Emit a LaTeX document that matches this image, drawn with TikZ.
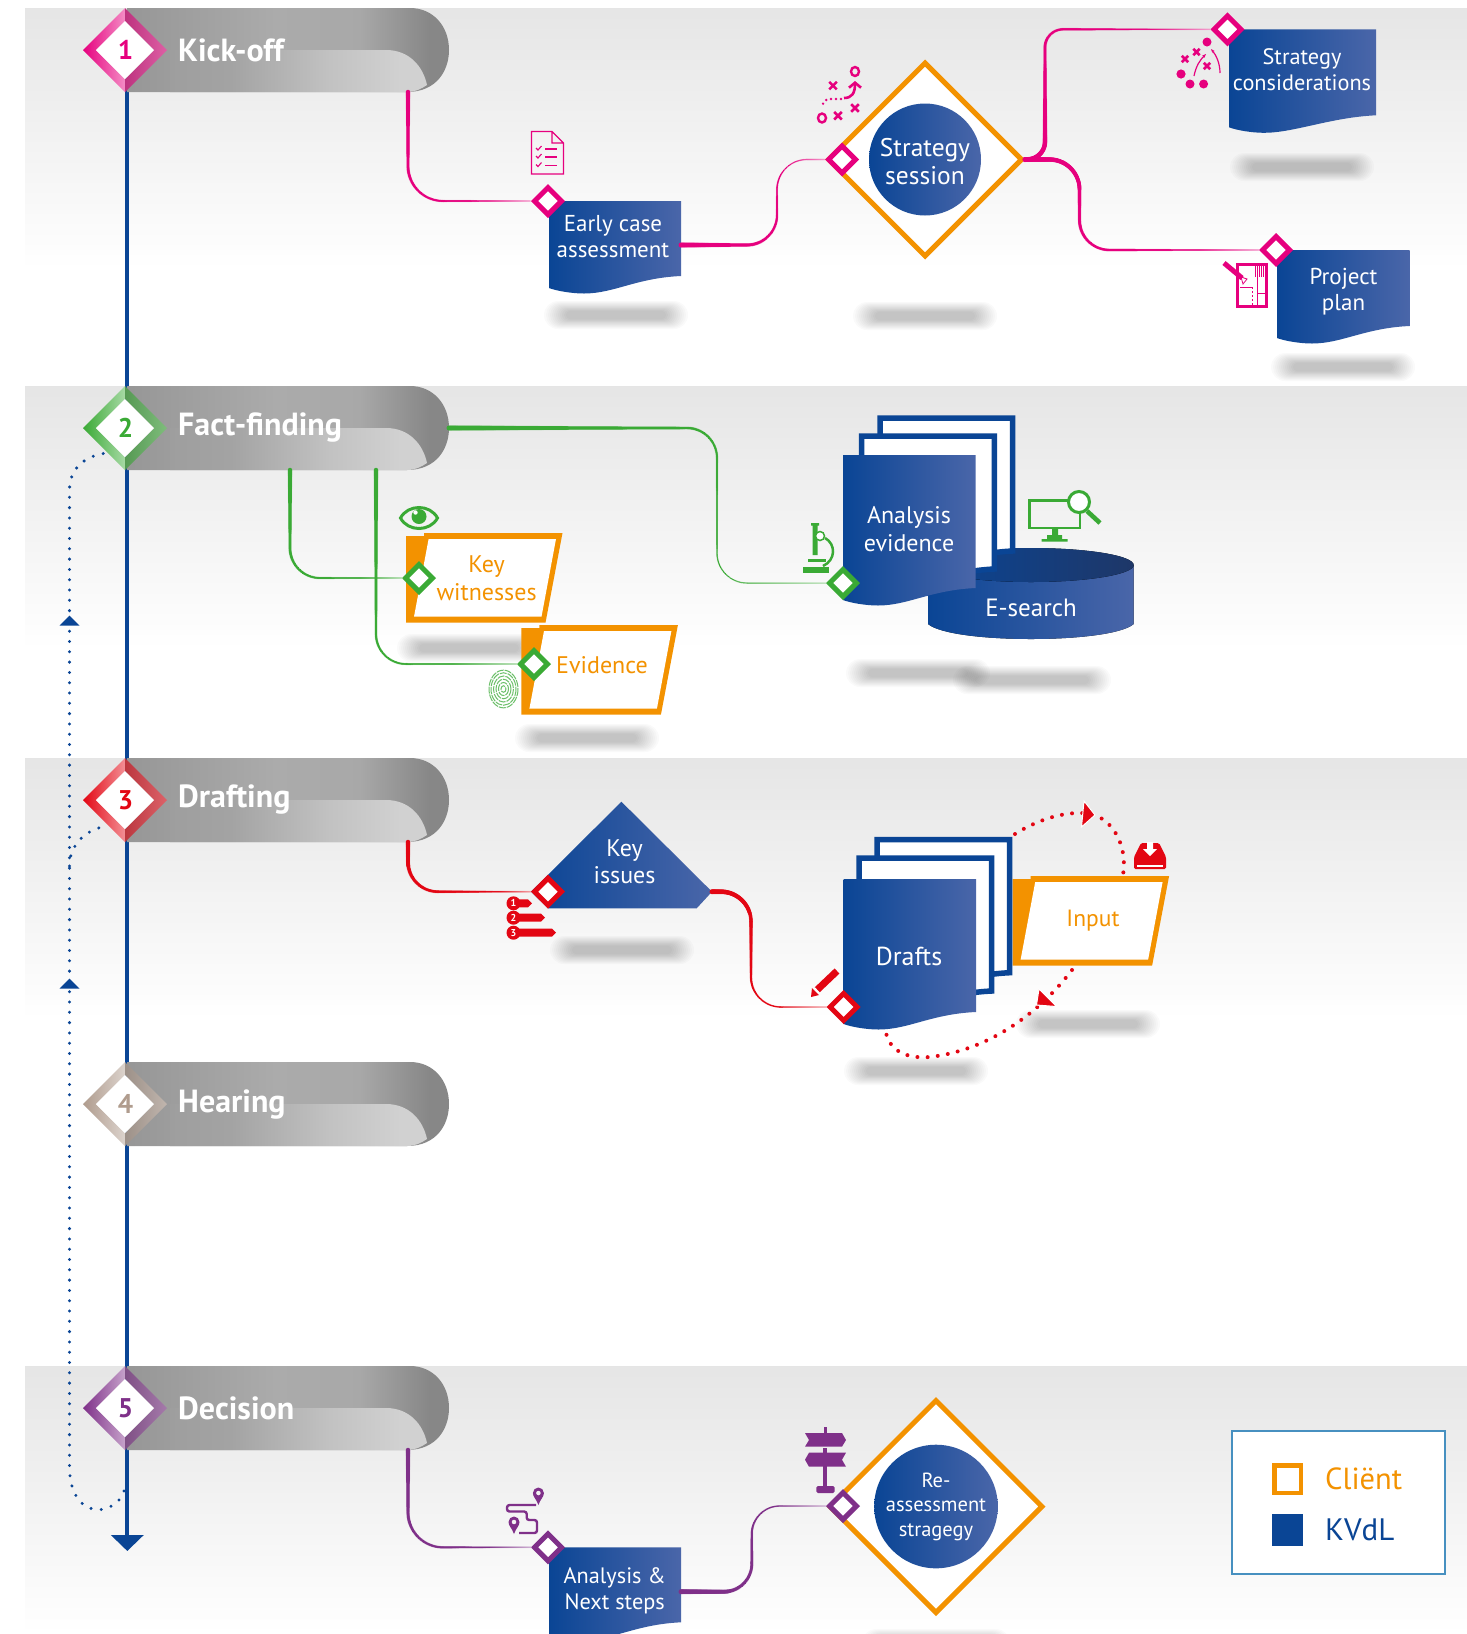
\documentclass[tikz,border=0pt]{standalone}
\usepackage{fontspec}
\setmainfont{PT Sans}
\usetikzlibrary{shapes.geometric,arrows.meta,decorations.markings,calc}
\definecolor{navy}{HTML}{0A4595}
\definecolor{navyB}{HTML}{4A66A9}
\definecolor{navyD}{HTML}{1E3768}
\definecolor{orng}{HTML}{F39200}
\definecolor{mgnt}{HTML}{E6007E}
\definecolor{grn}{HTML}{3AAA35}
\definecolor{rd}{HTML}{E30613}
\definecolor{prpl}{HTML}{7F3089}
\definecolor{taup}{HTML}{B09C8E}
\pgfdeclarehorizontalshading{bannerback}{100bp}{color(0bp)=(black!41);color(25bp)=(black!41);color(48bp)=(black!33);color(61bp)=(black!34);color(72bp)=(black!47);color(100bp)=(black!47)}
\pgfdeclarehorizontalshading{bannerfront}{100bp}{color(0bp)=(black!38);color(25bp)=(black!38);color(37bp)=(black!36);color(56bp)=(black!24);color(70bp)=(black!18);color(100bp)=(black!18)}
\tikzset{
 x=1pt,y=-1pt,
 wtext/.style={text=white,font=\fontsize{23}{26}\selectfont,align=center,inner sep=0pt},
 otext/.style={text=orng,font=\fontsize{24}{28}\selectfont,align=center,inner sep=0pt},
 port/.style={diamond,draw=#1,fill=white,line width=5pt,inner sep=0pt,minimum width=29pt,minimum height=29pt,aspect=1},
 bigdia/.style={diamond,draw=orng,fill=white,line width=5pt,inner sep=0pt,aspect=1,minimum width=#1,minimum height=#1},
 disc/.style={circle,left color=navy,right color=navyB,inner sep=0pt,minimum size=#1},
 bluedots/.style={draw=navy,line width=3.3pt,line cap=round,dash pattern=on 0pt off 10.3pt},
 reddots/.style={draw=rd,line width=4pt,line cap=round,dash pattern=on 0pt off 10.2pt},
 taper/.style n args={3}{decoration={markings,mark=between positions 0 and 1 step 1pt with {
   \pgfkeysgetvalue{/pgf/decoration/mark info/distance from start}\tmpd
   \pgfmathsetmacro\tf{\tmpd/\pgfdecoratedpathlength}
   \pgfmathsetmacro\tr{(#3+(#2-#3)*(1-min(1,\tf/0.8)))/2}
   \pgfmathsetmacro\tm{100-max(0,\tf-0.8)/0.2*60}
   \fill[#1!\tm!white] (0,0) circle[radius=\tr pt];
 }},postaction={decorate}}
}
\newcommand{\phasebanner}[5]{%
 \begin{scope}[shift={(0,#2)}]
 \shade[shading=bannerback] (127,0) -- (410,0) .. controls (433,0) and (449,18) .. (449,42) .. controls (449,62) and (437,84) .. (407,84) -- (127,84) -- cycle;
 \shade[shading=bannerfront] (170,84) -- (170,42) -- (386,42) .. controls (409,42) and (423,58) .. (427,77) .. controls (421,81) and (415,84) .. (407,84) -- cycle;
 \shade[left color=#3,right color=#3!45!white] (83,42) -- (125,0) -- (125,13) -- (96,42) -- cycle;
 \shade[left color=#3,right color=#3!45!white] (83,42) -- (125,84) -- (125,71) -- (96,42) -- cycle;
 \shade[left color=#3!60!gray,right color=#3!65!white!85!gray] (125,0) -- (167,42) -- (154,42) -- (125,13) -- cycle;
 \shade[left color=#3!60!gray,right color=#3!65!white!85!gray] (125,84) -- (167,42) -- (154,42) -- (125,71) -- cycle;
 \fill[white] (96,42) -- (125,13) -- (154,42) -- (125,71) -- cycle;
 \node[text=#3,font=\fontsize{27}{27}\selectfont\bfseries,inner sep=0pt] (num#1) at (125.5,42) {#4};
 \node[text=white,font=\fontsize{32}{32}\selectfont\bfseries,inner sep=0pt,anchor=west] (title#1) at (178,42) {#5};
 \coordinate (out#1) at (408,84);
 \coordinate (rt#1) at (449,42);
 \end{scope}}
\newcommand{\softshadow}[3]{%
 \foreach \i in {0,...,11}{\fill[black,opacity=.019,rounded corners={(14-\i*.9)*1pt}] ({#1-#3/2-9+\i*2},{#2-14+\i*.9}) rectangle ({#1+#3/2+9-\i*2},{#2+14-\i*.9});}}
\def\docpath#1#2#3#4{(#1,#2) -- ++(#3,0) -- ++(0,#4) .. controls +(-45,2) and +(30,0) .. ++({-(#3-35)},17.5) .. controls +(-12,0) and +(8,3) .. ++(-35,-5.5) -- cycle}
\newcommand{\docblue}[4]{\shade[left color=navy,right color=navyB] \docpath{#1}{#2}{#3}{#4};}
\newcommand{\sheet}[4]{\filldraw[draw=navy,fill=white,line width=5.5pt,miter limit=10] \docpath{#1}{#2}{#3}{#4};}
\newcommand{\clientbox}[2]{%
 \begin{scope}[shift={(#1,#2)}]
 \fill[orng] (0,3) -- (18,3) -- (18,0) -- (156.5,0) -- (139.5,89.7) -- (0,89.7) -- cycle;
 \fill[white] (22.6,6) -- (150,6) -- (135.5,83.7) -- (8,83.7) -- cycle;
 \end{scope}}
\newcommand{\xm}[4]{\draw[#1,line width=2.6pt] (#2-#4,#3-#4) -- (#2+#4,#3+#4) (#2-#4,#3+#4) -- (#2+#4,#3-#4);}
\newcommand{\mappin}[3]{\fill[#1,even odd rule] (#2,#3) .. controls (#2-2,#3-6) and (#2-5.5,#3-8) .. (#2-5.5,#3-12) arc[start angle=180,end angle=360,radius=5.5] .. controls (#2+5.5,#3-8) and (#2+2,#3-6) .. (#2,#3) -- cycle (#2,#3-12) circle[radius=2.4];}
\newcommand{\tagicon}[4]{\fill[rd] (513.5,#1-4) -- (#2-4,#1-4) -- (#2,#1) -- (#2-4,#1+4) -- (513.5,#1+4) -- cycle;
 \node[circle,fill=rd,text=white,inner sep=0pt,minimum size=14pt,font=\fontsize{10}{10}\selectfont\bfseries] (#4) at (513.5,#1) {#3};}
\begin{document}
\begin{tikzpicture}
\clip (0,0) rectangle (1467,1634);
\path[use as bounding box] (0,0) rectangle (1467,1634);
\fill[white] (0,0) rectangle (1467,1634);
% bands
\shade[top color=black!10,bottom color=white] (25,8) rectangle (1467,270);
\shade[top color=black!10,bottom color=white] (25,386) rectangle (1467,650);
\shade[top color=black!10,bottom color=white] (25,758) rectangle (1467,1020);
\shade[top color=black!10,bottom color=white] (25,1366) rectangle (1467,1634);
% main axis and feedback
\coordinate (axtop) at (127.3,60);
\coordinate (axend) at (127.3,1551);
\draw[navy,line width=4pt,-{Triangle[length=16pt,width=32pt]}] (axtop) -- (axend);
\coordinate (fbA) at (124,1491);
\coordinate (fbB) at (106,453);
\coordinate (fbC) at (106,826);
\draw[bluedots] (fbA) .. controls (116,1516) and (72,1522) .. (69.5,1470) -- (69.5,490) .. controls (69.5,468) and (85,456) .. (fbB);
\draw[bluedots] (69.5,866) .. controls (69.5,845) and (85,830) .. (fbC);
\fill[navy] (59.5,625.5) -- (79.5,625.5) -- (69.5,615.5) -- cycle;
\fill[navy] (59.5,988.5) -- (79.5,988.5) -- (69.5,978.5) -- cycle;
% phases
\phasebanner{1}{8}{mgnt}{1}{Kick-off}
\phasebanner{2}{386}{grn}{2}{Fact-finding}
\phasebanner{3}{758}{rd}{3}{Drafting}
\phasebanner{4}{1062}{taup}{4}{Hearing}
\phasebanner{5}{1366}{prpl}{5}{Decision}
% shadows
\softshadow{616}{315}{126}
\softshadow{925}{316}{126}
\softshadow{1302}{167}{126}
\softshadow{1343}{367}{126}
\softshadow{469}{648}{126}
\softshadow{587}{738}{126}
\softshadow{918}{673}{126}
\softshadow{1032}{680}{140}
\softshadow{622}{950}{126}
\softshadow{1088}{1024}{126}
\softshadow{916}{1071}{126}
\softshadow{936}{1643}{130}
% ===== Kick-off
\docblue{549}{201}{132}{75}
\docblue{1229}{29.3}{147}{86}
\docblue{1277}{250}{132.6}{76}
\node[bigdia=195pt] (stratdia) at (925,159.5) {};
\node[disc=112pt] (stratdisc) at (925,159.5) {};
\node[wtext,font=\fontsize{25.5}{28}\selectfont] (strattxt) at (925,161.5) {Strategy\\session};
\node[wtext] (earlytxt) at (613,237) {Early case\\assessment};
\node[wtext,font=\fontsize{22.3}{26}\selectfont] (constxt) at (1302,70) {Strategy\\considerations};
\node[wtext] (plantxt) at (1343.5,292) {Project\\plan};
\node[port=mgnt] (p1) at (548,201) {};
\node[port=mgnt] (p2) at (842,159.5) {};
\node[port=mgnt] (p3) at (1227.5,29.3) {};
\node[port=mgnt] (p4) at (1276,250) {};
\coordinate (earlyout) at (681,245);
\path[rounded corners=35pt,taper={mgnt}{4.5}{1.8}] (out1) |- (p1.west);
\path[rounded corners=30pt,taper={mgnt}{5}{1.6}] (earlyout) -| (777,159.5) -- (p2.west);
\path[rounded corners=18pt,taper={mgnt}{5}{1.6}] (stratdia.east) -| (1045,29.3) -- (p3.west);
\path[rounded corners=30pt,taper={mgnt}{5}{1.6}] (stratdia.east) -| (1079.5,250) -- (p4.west);
% checklist icon
\draw[mgnt,line width=1.3pt] (531.5,131.5) -- (552,131.5) -- (563.5,143) -- (563.5,174) -- (531.5,174) -- cycle (552,131.5) -- (552,143) -- (563.5,143);
\foreach \yy in {149,157,165.5}{\draw[mgnt,line width=1.6pt] (545,\yy) -- (557,\yy); \draw[mgnt,line width=1.1pt] (536,\yy-1) -- (538,\yy+1) -- (541.5,\yy-3);}
% play icon
\draw[mgnt,line width=2.4pt] (855,71.5) ellipse[x radius=4,y radius=4.5];
\draw[mgnt,line width=2.4pt] (822,118) ellipse[x radius=4,y radius=4.5];
\xm{mgnt}{833}{85.6}{3.8}\xm{mgnt}{855}{108}{3.8}\xm{mgnt}{838}{115.7}{3.8}
\draw[mgnt,line width=2.6pt,-{Straight Barb[length=5pt,width=12pt]}] (844,98) .. controls (852,98) and (855,93) .. (855,81);
\draw[mgnt,line width=2.6pt,line cap=round,dash pattern=on 0pt off 5pt] (841,99) -- (828,99) .. controls (825,100) and (822,104) .. (821.5,108);
% considerations icon
\fill[mgnt] (1207,42) circle[radius=4.5] (1181,74) circle[radius=4.6] (1190,84) circle[radius=4.5] (1203.6,84) circle[radius=4.5];
\xm{mgnt}{1196.5}{52}{3.2}\xm{mgnt}{1185}{59}{3.2}\xm{mgnt}{1207}{66}{3.2}
\draw[mgnt,line width=1.2pt,-{Stealth[length=4pt]}] (1194,76) .. controls (1196,66) and (1200,60) .. (1206,54);
\draw[mgnt,line width=1.2pt,-{Stealth[length=4pt]}] (1220,73) .. controls (1220,63) and (1216,55) .. (1211,49);
% plan icon
\draw[mgnt,line width=3pt] (1237.5,264) rectangle (1266.5,306);
\draw[mgnt,line width=.8pt] (1257,277) -- (1257,306) (1257,293) -- (1266,293) (1240,287) -- (1252,287);
\draw[mgnt,line width=.8pt,dash pattern=on 2pt off 2pt] (1252,287) -- (1252,305);
\foreach \xx in {1255,1257,...,1265}{\draw[mgnt,line width=.7pt] (\xx,265) -- (\xx,277);}
\draw[mgnt,line width=5pt] (1224,263) -- (1242,278);
\draw[mgnt,line width=.8pt] (1241,277) -- (1247,279) -- (1243,284) -- cycle;
% ===== Fact-finding
\coordinate (ffa) at (290,470);
\coordinate (ffb) at (376,470);
\clientbox{406}{533}
\node[otext] (keytxt) at (486.6,578) {Key\\witnesses};
\clientbox{521.4}{625}
\node[otext] (evtxt) at (602,665) {Evidence};
\node[port=grn] (p5) at (419,578) {};
\node[port=grn] (p6) at (534,664) {};
\path[rounded corners=30pt,taper={grn}{4.5}{1.8}] (ffa) |- (p5.west);
\path[rounded corners=30pt,taper={grn}{4.5}{1.8}] (ffb) |- (p6.west);
% cylinder
\fill[left color=navy,right color=navyB] (928,565) -- (928,624) .. controls (940,634) and (985,639) .. (1031,639) .. controls (1077,639) and (1122,634) .. (1133.7,624) -- (1133.7,565) -- cycle;
\fill[left color=navy,middle color=navy,right color=navyD] (1031,565) ellipse[x radius=102.7,y radius=17];
\node[wtext,font=\fontsize{25}{26}\selectfont] (esearch) at (1031,608) {E-search};
\sheet{880}{418}{132.7}{133}
\sheet{861.7}{436}{132.7}{133}
\docblue{843}{455}{132.7}{133}
\node[wtext,font=\fontsize{24}{28}\selectfont] (antxt) at (909,529) {Analysis\\evidence};
\node[port=grn] (p7) at (843,583) {};
\path[rounded corners=30pt,taper={grn}{5}{1.5}] (rt2) -| (717,583) -- (p7.west);
% eye
\draw[grn,line width=3pt] (400.5,518) .. controls (408,504) and (430,504) .. (437.5,518) .. controls (430,532) and (408,532) .. (400.5,518) -- cycle;
\fill[grn] (419,516.5) circle[radius=7.5];
\fill[white] (415.5,512.5) circle[radius=2.2];
% fingerprint
\foreach \rr in {2.5,5,7.5,10,12.5,14.5}{\draw[grn!75!white,line width=1pt,dash pattern=on 7pt off 1pt] (503.5,689) ellipse[x radius=\rr,y radius=\rr*1.3];}
% microscope
\fill[grn] (803,567) rectangle (829,573);
\fill[grn] (811,523) rectangle (819,525.5) (812.5,525) rectangle (817.5,555);
\draw[grn,line width=1.5pt,fill=white] (820,536) circle[radius=4.5];
\draw[grn,line width=2.5pt] (825,538) .. controls (836,544) and (836,560) .. (823,566);
\fill[grn] (808,559) rectangle (826,561.5);
% monitor
\draw[grn,line width=2.6pt] (1029.5,500.5) rectangle (1080,528);
\fill[grn] (1052,529) rectangle (1058,535) (1041.5,539) rectangle (1067.5,541.7) (1047,535) rectangle (1062,539);
\draw[grn,line width=3pt,fill=white] (1079,502) circle[radius=10.5];
\draw[grn,line width=4.6pt] (1087,511) -- (1100,523);
% ===== Drafting
\coordinate (kiout) at (712,891.7);
\shade[left color=navy,right color=navyB] (621.4,801.7) -- (kiout) -- (696.7,908.3) -- (548,908.3) -- (531,891.7) -- cycle;
\node[wtext,font=\fontsize{24}{27.5}\selectfont] (kitxt) at (624.6,861.5) {Key\\issues};
\clientbox{1012.6}{876}
\node[otext,font=\fontsize{23.5}{28}\selectfont] (inputtxt) at (1093,921) {Input};
\sheet{877}{839.7}{132.7}{133}
\sheet{859}{858}{132.7}{133}
\docblue{843.6}{879}{132.4}{133}
\node[wtext,font=\fontsize{26}{28}\selectfont] (drtxt) at (909,956) {Drafts};
\node[port=rd] (p8) at (548,891.7) {};
\node[port=rd] (p9) at (843.6,1007) {};
\path[rounded corners=30pt,taper={rd}{4.5}{1.8}] (out3) |- (p8.west);
\path[rounded corners=30pt,taper={rd}{5}{1.5}] (kiout) -| (751,1007) -- (p9.west);
\foreach \yy/\xx/\nn/\mm in {903.3/532/1/taga,917.7/545/2/tagb,932.7/556/3/tagc}{\tagicon{\yy}{\xx}{\nn}{\mm}}
% pencil
\draw[rd,line width=7pt] (817,990) -- (837,971);
\draw[white,line width=1pt] (819.5,993) -- (814.5,987.5);
\fill[rd] (811,997) -- (812,988) -- (819,995) -- cycle;
% inbox
\fill[rd,rounded corners=1.5pt] (1141,843) -- (1159,843) -- (1166,857) -- (1166,869) -- (1134,869) -- (1134,857) -- cycle;
\fill[white] (1147,842) -- (1153,842) -- (1153,849) -- (1157,849) -- (1150,856) -- (1143,849) -- (1147,849) -- cycle;
\fill[white] (1137,865) rectangle (1163,866.5);
% revision arcs
\coordinate (arcAs) at (1015,834);
\coordinate (arcAe) at (1123,875);
\coordinate (arcBs) at (1072,970);
\coordinate (arcBe) at (886,1033);
\draw[reddots] (arcAs) .. controls (1040,818) and (1070,810) .. (1090,814) .. controls (1112,818) and (1128,845) .. (arcAe);
\draw[reddots] (arcBs) .. controls (1040,1012) and (990,1050) .. (930,1057) .. controls (905,1059) and (890,1050) .. (arcBe);
\filldraw[fill=rd,draw=white,line width=1pt] (1084,801) -- (1095,815) -- (1081.5,827) -- cycle;
\filldraw[fill=rd,draw=white,line width=1pt] (1039,989) -- (1056.5,1006.5) -- (1036.5,1005) -- cycle;
% ===== Decision
\docblue{549}{1547.3}{132}{75}
\node[bigdia=214pt] (readia) at (936,1506.5) {};
\node[disc=123.6pt] (readisc) at (936,1506.5) {};
\node[wtext,font=\fontsize{20.5}{24.5}\selectfont] (retxt) at (936,1506.5) {Re-\\assessment\\stragegy};
\node[wtext,font=\fontsize{22.3}{26}\selectfont] (antxtb) at (614.7,1590.5) {Analysis \&\\Next steps};
\node[port=prpl] (p10) at (548,1547.3) {};
\node[port=prpl] (p11) at (843,1506) {};
\coordinate (anout) at (681,1591.7);
\path[rounded corners=35pt,taper={prpl}{4.5}{1.8}] (out5) |- (p10.west);
\path[rounded corners=28pt,taper={prpl}{5}{1.5}] (anout) -| (751.8,1506) -- (p11.west);
% route icon
\draw[prpl,line width=2.4pt,rounded corners=2.5pt] (536,1505) -- (507,1505) -- (507,1511.5) -- (526.7,1511.5) -- (526.7,1520) -- (537,1520) -- (537,1533) -- (519,1533);
\mappin{prpl}{538.4}{1505}
\mappin{prpl}{514}{1534}
% signpost
\fill[prpl] (823.5,1427) rectangle (826.5,1433);
\fill[prpl] (805,1433) -- (842,1433) -- (846,1440) -- (842,1446.7) -- (805,1446.7) -- (809,1440) -- cycle;
\fill[prpl] (805,1459.7) -- (809,1452.7) -- (846,1452.7) -- (842,1459.7) -- (846,1466.7) -- (809,1466.7) -- cycle;
\fill[prpl] (823,1448) rectangle (827,1488);
\fill[prpl,rounded corners=1.5pt] (816.4,1486) rectangle (834.7,1493);
% legend
\node[draw=navy!70!white!85!cyan,line width=1.8pt,fill=white,minimum width=213pt,minimum height=143pt,inner sep=0pt] (legend) at (1338.6,1502.5) {};
\node[draw=orng,line width=4.5pt,fill=white,minimum width=26.5pt,minimum height=27.5pt,inner sep=0pt] (legcl) at (1287.7,1479) {};
\node[fill=navy,minimum width=31pt,minimum height=32pt,inner sep=0pt] (legkv) at (1287.7,1530) {};
\node[anchor=west,text=orng,font=\fontsize{30.5}{30}\selectfont,inner sep=0pt] (legcltxt) at (1325,1479) {Cliënt};
\node[anchor=west,text=navy,font=\fontsize{31}{30}\selectfont,inner sep=0pt] (legkvtxt) at (1325,1530) {KVdL};
\end{tikzpicture}
\end{document}
